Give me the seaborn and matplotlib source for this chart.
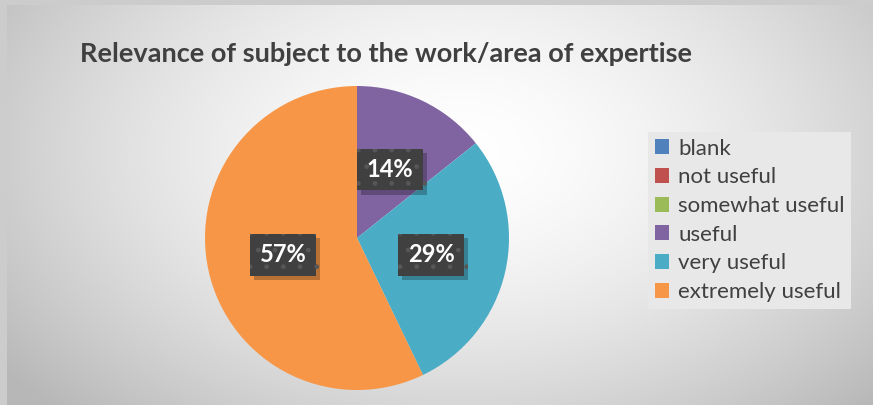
import matplotlib.pyplot as plt
import matplotlib.patches as mpatches
import matplotlib.patheffects as pe
import numpy as np
import seaborn as sns

categories = ["blank", "not useful", "somewhat useful", "useful", "very useful", "extremely useful"]
counts = [0, 0, 0, 1, 2, 4]
colors = ["#4F81BD", "#C0504D", "#9BBB59", "#8064A2", "#4BACC6", "#F79646"]
title = "Relevance of subject to the work/area of expertise"

sns.set_theme(style="white")
plt.rcParams["font.family"] = ["Lato", "DejaVu Sans"]
plt.rcParams["hatch.linewidth"] = 1.0

W, H = 873, 405
fig = plt.figure(figsize=(W / 100, H / 100), dpi=100)

# radial grey background
bg = fig.add_axes([0, 0, 1, 1])
yy, xx = np.mgrid[0:H, 0:W]
d = np.sqrt(((xx - 460) / 520) ** 2 + ((yy - 150) / 330) ** 2)
shade = np.clip(1.0 - 0.24 * d ** 1.6, 0.72, 1.0)
rgb = np.dstack([shade, shade, shade])
rgb[:5, :, :] = 0.80
rgb[:, :7, :] = 0.80
bg.imshow(rgb, aspect="auto", extent=[0, W, H, 0])
bg.set_axis_off()

r = 152
cx, cy = 357, 238
ax = fig.add_axes([(cx - r) / W, (H - cy - r) / H, 2 * r / W, 2 * r / H])
wedges, _ = ax.pie(counts, colors=sns.color_palette(colors), startangle=90,
                   counterclock=False, radius=1,
                   wedgeprops=dict(linewidth=0))
ax.set_xlim(-1, 1)
ax.set_ylim(-1, 1)
ax.set_axis_off()

total = sum(counts)
for w, n in zip(wedges, counts):
    if n == 0:
        continue
    ang = np.deg2rad((w.theta1 + w.theta2) / 2)
    x, y = 0.5 * np.cos(ang), 0.5 * np.sin(ang)
    t = ax.text(x, y, f"{n / total:.0%}", ha="center", va="center",
                fontsize=17, fontweight="bold", color="white",
                bbox=dict(boxstyle="square,pad=0.4", facecolor="#404040",
                          edgecolor="#575757", hatch=".", linewidth=0))
    t.get_bbox_patch().set_path_effects(
        [pe.SimplePatchShadow(offset=(3, -3), shadow_rgbFace="black", alpha=0.25),
         pe.Normal()])

fig.text(80 / W, 1 - 54 / H, title, ha="left", va="center",
         fontsize=19.5, fontweight="bold", color="#404040")

handles = [mpatches.Patch(facecolor=c, edgecolor="none") for c in colors]
leg = fig.legend(handles, categories, loc="upper left",
                 bbox_to_anchor=(648 / W, 1 - 132 / H), frameon=True,
                 fontsize=16, handlelength=0.65, handleheight=0.65,
                 handletextpad=0.4, labelspacing=0.39, borderpad=0.3,
                 borderaxespad=0, fancybox=False, labelcolor="#404040")
leg.get_frame().set_facecolor("#e8e8e8")
leg.get_frame().set_edgecolor("none")
leg.get_frame().set_alpha(1)

fig.savefig("out.png", dpi=100)
